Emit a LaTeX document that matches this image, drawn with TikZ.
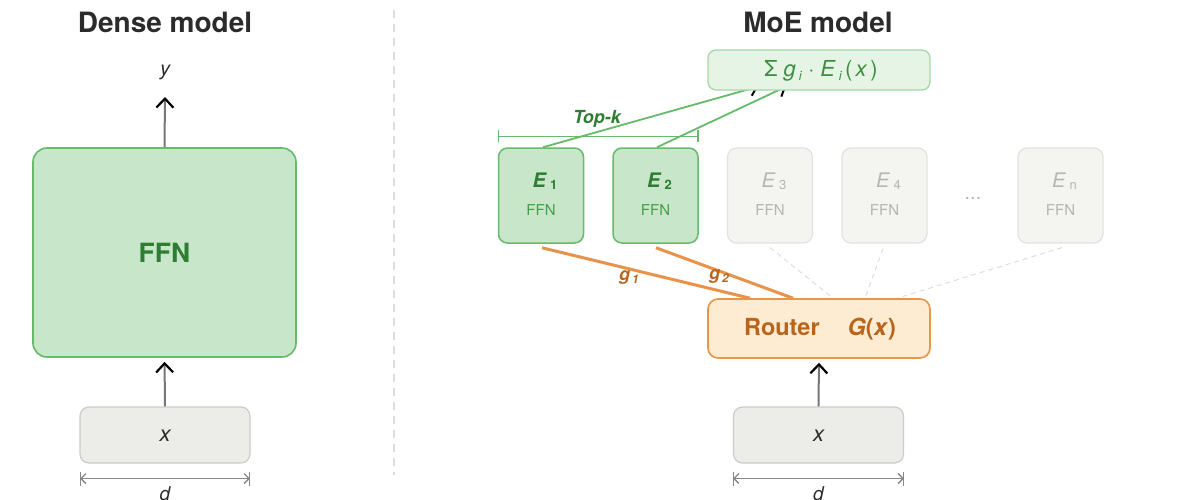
\documentclass[tikz,border=0pt]{standalone}
\usepackage{fontspec}
\setmainfont{TeX Gyre Heros}
\usetikzlibrary{arrows.meta,backgrounds}
\definecolor{gfill}{HTML}{C8E6C9}
\definecolor{gdraw}{HTML}{66BB6A}
\definecolor{gtext}{HTML}{2E7D32}
\definecolor{gtextb}{HTML}{43A047}
\definecolor{sfill}{HTML}{E6F4E6}
\definecolor{sdraw}{HTML}{A5D6A7}
\definecolor{stext}{HTML}{3E8E41}
\definecolor{efill}{HTML}{F4F4F1}
\definecolor{edraw}{HTML}{E2E2DE}
\definecolor{etext}{HTML}{B5B5B5}
\definecolor{xfill}{HTML}{ECECE8}
\definecolor{xdraw}{HTML}{CCCCC8}
\definecolor{rfill}{HTML}{FDEBD2}
\definecolor{rdraw}{HTML}{E8964C}
\definecolor{rtext}{HTML}{B8651B}
\definecolor{oline}{HTML}{E8924A}
\definecolor{ttext}{HTML}{2B2B2B}
\definecolor{agray}{HTML}{777777}
\definecolor{dgray}{HTML}{888888}
\definecolor{lgray}{HTML}{DDDDDD}
\newcommand{\fsz}[1]{\fontsize{#1}{#1}\selectfont}
\begin{document}
\begin{tikzpicture}[x=1pt,y=-1pt,
  titletxt/.style={font=\fsz{28}\bfseries, text=ttext},
  mathtxt/.style={font=\fsz{20}\itshape, text=ttext},
  bigbox/.style={draw=gdraw, fill=gfill, line width=1.6pt, rounded corners=14pt, inner sep=0pt},
  inbox/.style={draw=xdraw, fill=xfill, line width=1.2pt, rounded corners=9pt, inner sep=0pt, minimum width=170pt, minimum height=56pt},
  onbox/.style={draw=gdraw, fill=gfill, line width=1.5pt, rounded corners=9pt, inner sep=0pt, minimum width=85pt, minimum height=95pt},
  offbox/.style={draw=edraw, fill=efill, line width=1.2pt, rounded corners=9pt, inner sep=0pt, minimum width=85pt, minimum height=95pt},
  sumbox/.style={draw=sdraw, fill=sfill, line width=1.3pt, rounded corners=8pt, inner sep=0pt, minimum width=222pt, minimum height=40pt},
  routerbox/.style={draw=rdraw, fill=rfill, line width=1.6pt, rounded corners=10pt, inner sep=0pt, minimum width=222pt, minimum height=59pt},
  uparrow/.style={draw=agray, line width=2pt, -{Straight Barb[black, length=9pt, width=17pt, line width=2.2pt]}},
  dimline/.style={draw=dgray, line width=1.3pt},
  gline/.style={draw=gdraw, line width=1.8pt},
  garrow/.style={draw=gdraw, line width=1.8pt, -{Straight Barb[black, length=7pt, width=14pt, line width=2pt]}},
  oedge/.style={draw=oline, line width=3pt},
  dedge/.style={draw=lgray, line width=1pt, dash pattern=on 5pt off 4pt},
  onE/.style={font=\fsz{20}\bfseries\itshape, text=gtext},
  offE/.style={font=\fsz{20}\itshape, text=etext},
  onF/.style={font=\fsz{15}, text=gtextb},
  offF/.style={font=\fsz{15}, text=etext},
  glabel/.style={font=\fsz{18}\bfseries\itshape, text=rtext}
]
\useasboundingbox (0,0) rectangle (1197,499);

% divider
\draw[draw=lgray, line width=1.5pt, dash pattern=on 8pt off 6pt] (394,10) -- (394,475);

% ---------- Dense model ----------
\node[titletxt] (t1) at (165,22) {Dense model};
\node[bigbox, minimum width=263pt, minimum height=209pt] (ffn) at (164.5,252.5) {};
\node[font=\fsz{26.5}\bfseries, text=gtext] (ffnt) at (164.5,253) {FFN};
\node[inbox] (xl) at (165,435) {};
\node[mathtxt, font=\fsz{22}\itshape] (xlt) at (165,436) {x};
\node[mathtxt] (yl) at (165,72) {y};
\coordinate (ytip) at (165,97);
\draw[uparrow] (ffn.north) -- (ytip);
\draw[uparrow, shorten >=4pt] (xl.north) -- (ffn.south);
\coordinate (dl1) at (80,478.5);
\coordinate (dl2) at (250,478.5);
\draw[dimline, {Bar[width=14pt]}-{Bar[width=14pt]}] (dl1) -- (dl2);
\draw[dimline, {Straight Barb[length=5pt,width=10pt]}-{Straight Barb[length=5pt,width=10pt]}] (dl1) -- (dl2);
\node[mathtxt, font=\fsz{19}\itshape] (dlt) at (165,494) {d};

% ---------- MoE model ----------
\node[titletxt] (t2) at (818,22) {MoE model};
\node[sumbox] (sum) at (819,70) {};
\node[font=\fsz{22}, text=stext] (sumt) at (821,71)
  {Σ\kern6pt\textit{g}\kern3pt\raisebox{-4pt}{\fsz{13}\textit{i}}\kern6pt·\kern6pt\textit{E}\kern3pt\raisebox{-4pt}{\fsz{13}\textit{i}}\kern3pt(\kern3pt\textit{x}\kern3pt)};

\node[onbox] (e1) at (541,195.5) {};
\node[onbox] (e2) at (655.5,195.5) {};
\node[offbox] (e3) at (770,195.5) {};
\node[offbox] (e4) at (884.5,195.5) {};
\node[offbox] (en) at (1060.5,195.5) {};
\node[font=\fsz{20}, text=etext] (dots) at (973,198) {...};

\node[onE] (e1l) at ([xshift=4pt,yshift=14pt]e1.center) {E\kern4pt\raisebox{-2pt}{\fsz{13}\upshape 1}};
\node[onF] (e1f) at ([yshift=-14.5pt]e1.center) {FFN};
\node[onE] (e2l) at ([xshift=4pt,yshift=14pt]e2.center) {E\kern4pt\raisebox{-2pt}{\fsz{13}\upshape 2}};
\node[onF] (e2f) at ([yshift=-14.5pt]e2.center) {FFN};
\node[offE] (e3l) at ([xshift=4pt,yshift=14pt]e3.center) {E\kern4pt\raisebox{-2pt}{\fsz{13}\upshape 3}};
\node[offF] (e3f) at ([yshift=-14.5pt]e3.center) {FFN};
\node[offE] (e4l) at ([xshift=4pt,yshift=14pt]e4.center) {E\kern4pt\raisebox{-2pt}{\fsz{13}\upshape 4}};
\node[offF] (e4f) at ([yshift=-14.5pt]e4.center) {FFN};
\node[offE] (enl) at ([xshift=4pt,yshift=14pt]en.center) {E\kern4pt\raisebox{-2pt}{\fsz{13}\upshape n}};
\node[offF] (enf) at ([yshift=-14.5pt]en.center) {FFN};

% Top-k bracket
\coordinate (tk1) at ([yshift=11pt]e1.north west);
\coordinate (tk2) at ([yshift=11pt]e2.north east);
\draw[gline, line width=1.5pt, {Bar[width=12pt]}-{Bar[width=12pt]}] (tk1) -- (tk2);
\node[font=\fsz{18}\bfseries\itshape, text=gtext] (topk) at (597,119) {Top-k};

\node[routerbox] (router) at (819,328.5) {};
\node[font=\fsz{23.5}\bfseries, text=rtext] (routert) at (820,329)
  {Router\hspace{28pt}\textit{G}(\textit{x})};

\node[inbox] (xr) at (818.5,435) {};
\node[mathtxt, font=\fsz{22}\itshape] (xrt) at (818.5,436) {x};
\draw[uparrow, shorten >=4pt] (xr.north) -- (router.south);
\coordinate (dr1) at (733,478.5);
\coordinate (dr2) at (904,478.5);
\draw[dimline, {Bar[width=14pt]}-{Bar[width=14pt]}] (dr1) -- (dr2);
\draw[dimline, {Straight Barb[length=5pt,width=10pt]}-{Straight Barb[length=5pt,width=10pt]}] (dr1) -- (dr2);
\node[mathtxt, font=\fsz{19}\itshape] (drt) at (818.5,494) {d};

\begin{scope}[on background layer]
  % expert outputs to sum
  \draw[garrow] ([xshift=2pt]e1.north) -- ([xshift=-61pt,yshift=4pt]sum.south);
  \draw[garrow] ([xshift=1.5pt]e2.north) -- ([xshift=-33pt,yshift=4pt]sum.south);
  % router gates
  \draw[oedge] ([xshift=1pt,yshift=-4pt]e1.south) -- ([xshift=-69pt]router.north);
  \draw[oedge] ([xshift=0.5pt,yshift=-4pt]e2.south) -- ([xshift=-26pt]router.north);
  \draw[dedge] ([yshift=-4pt]e3.south) -- ([xshift=14pt]router.north);
  \draw[dedge] ([xshift=-1.5pt,yshift=-5pt]e4.south) -- ([xshift=46pt]router.north);
  \draw[dedge] ([xshift=1.5pt,yshift=-4pt]en.south) -- ([xshift=78pt]router.north);
\end{scope}
\node[glabel] (g1) at (629,278) {g\kern2pt\raisebox{-3pt}{\fsz{12}1}};
\node[glabel] (g2) at (719,277) {g\kern2pt\raisebox{-3pt}{\fsz{12}2}};
\end{tikzpicture}
\end{document}
